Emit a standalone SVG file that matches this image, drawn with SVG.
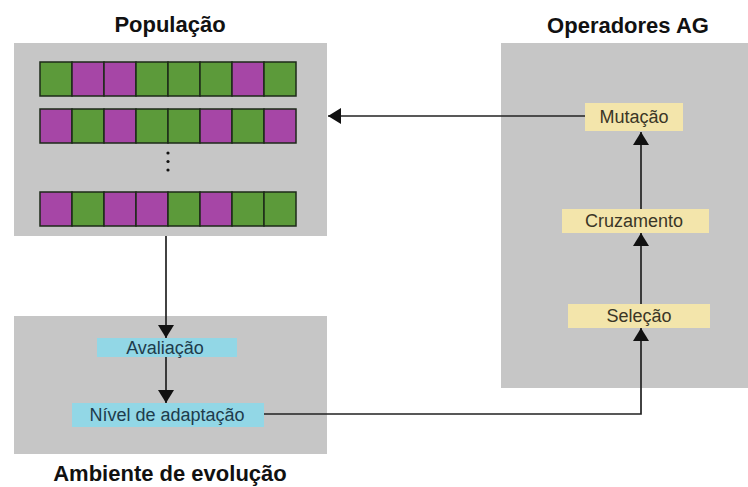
<svg xmlns="http://www.w3.org/2000/svg" width="748" height="487" viewBox="0 0 748 487">
<defs>
<style>
.panel{fill:#c6c6c6}
.title{font-family:"Liberation Sans",Arial,sans-serif;font-weight:bold;font-size:22px;fill:#111;text-anchor:middle}
.lbl{font-family:"Liberation Sans",Arial,sans-serif;font-size:18px;text-anchor:middle}
.y{fill:#f3e5ab}
.b{fill:#92d7e6}
.yt{fill:#3a3626}
.bt{fill:#1e3c4c}
.g{fill:#5c9a3a;stroke:#1c2a18;stroke-width:1.5}
.m{fill:#a646a6;stroke:#1c2a18;stroke-width:1.5}
.conn{fill:none;stroke:#222;stroke-width:1.7}
</style>
<marker id="arr" markerUnits="userSpaceOnUse" markerWidth="16" markerHeight="16" viewBox="0 0 13 16" refX="13" refY="8" orient="auto">
<path d="M0,0 L13,8 L0,16 Z" fill="#111"/>
</marker>
</defs>
<rect width="748" height="487" fill="#fff"/>

<g id="populacao">
<text class="title" x="170" y="32">População</text>
<rect class="panel" x="14" y="43" width="313" height="193"/>
<g id="row1">
<rect class="g" x="40" y="62" width="32" height="34"/>
<rect class="m" x="72" y="62" width="32" height="34"/>
<rect class="m" x="104" y="62" width="32" height="34"/>
<rect class="g" x="136" y="62" width="32" height="34"/>
<rect class="g" x="168" y="62" width="32" height="34"/>
<rect class="g" x="200" y="62" width="32" height="34"/>
<rect class="m" x="232" y="62" width="32" height="34"/>
<rect class="g" x="264" y="62" width="32" height="34"/>
</g>
<g id="row2">
<rect class="m" x="40" y="109" width="32" height="34"/>
<rect class="g" x="72" y="109" width="32" height="34"/>
<rect class="m" x="104" y="109" width="32" height="34"/>
<rect class="g" x="136" y="109" width="32" height="34"/>
<rect class="g" x="168" y="109" width="32" height="34"/>
<rect class="m" x="200" y="109" width="32" height="34"/>
<rect class="g" x="232" y="109" width="32" height="34"/>
<rect class="m" x="264" y="109" width="32" height="34"/>
</g>
<g id="dots" fill="#111">
<circle cx="168" cy="153" r="1.6"/>
<circle cx="168" cy="161.5" r="1.6"/>
<circle cx="168" cy="170" r="1.6"/>
</g>
<g id="row3">
<rect class="m" x="40" y="192" width="32" height="34"/>
<rect class="g" x="72" y="192" width="32" height="34"/>
<rect class="m" x="104" y="192" width="32" height="34"/>
<rect class="m" x="136" y="192" width="32" height="34"/>
<rect class="g" x="168" y="192" width="32" height="34"/>
<rect class="m" x="200" y="192" width="32" height="34"/>
<rect class="g" x="232" y="192" width="32" height="34"/>
<rect class="g" x="264" y="192" width="32" height="34"/>
</g>
</g>

<g id="operadores">
<text class="title" x="628" y="33">Operadores AG</text>
<rect class="panel" x="501" y="43" width="247" height="345"/>
</g>
<g id="mutacao">
<rect class="y" x="585" y="103" width="98" height="28"/>
<text class="lbl yt" x="634" y="123">Mutação</text>
</g>
<g id="cruzamento">
<rect class="y" x="562" y="209" width="147" height="24"/>
<text class="lbl yt" x="634" y="227">Cruzamento</text>
</g>
<g id="selecao">
<rect class="y" x="568" y="304" width="142" height="24"/>
<text class="lbl yt" x="639" y="322">Seleção</text>
</g>

<g id="ambiente">
<rect class="panel" x="14" y="316" width="313" height="138"/>
<text class="title" x="170" y="481" font-size="23">Ambiente de evolução</text>
</g>
<g id="avaliacao">
<rect class="b" x="97" y="338" width="140" height="19"/>
<text class="lbl bt" x="165" y="354">Avaliação</text>
</g>
<g id="nivel">
<rect class="b" x="72" y="403" width="192" height="24"/>
<text class="lbl bt" x="167" y="421">Nível de adaptação</text>
</g>

<g id="connectors">
<path class="conn" d="M585,116 H328" marker-end="url(#arr)"/>
<path class="conn" d="M641,209 V132" marker-end="url(#arr)"/>
<path class="conn" d="M641,304 V233" marker-end="url(#arr)"/>
<path class="conn" d="M264,414 H641 V328" marker-end="url(#arr)"/>
<path class="conn" d="M166,236 V338" marker-end="url(#arr)"/>
<path class="conn" d="M166,357 V403" marker-end="url(#arr)"/>
</g>
</svg>
